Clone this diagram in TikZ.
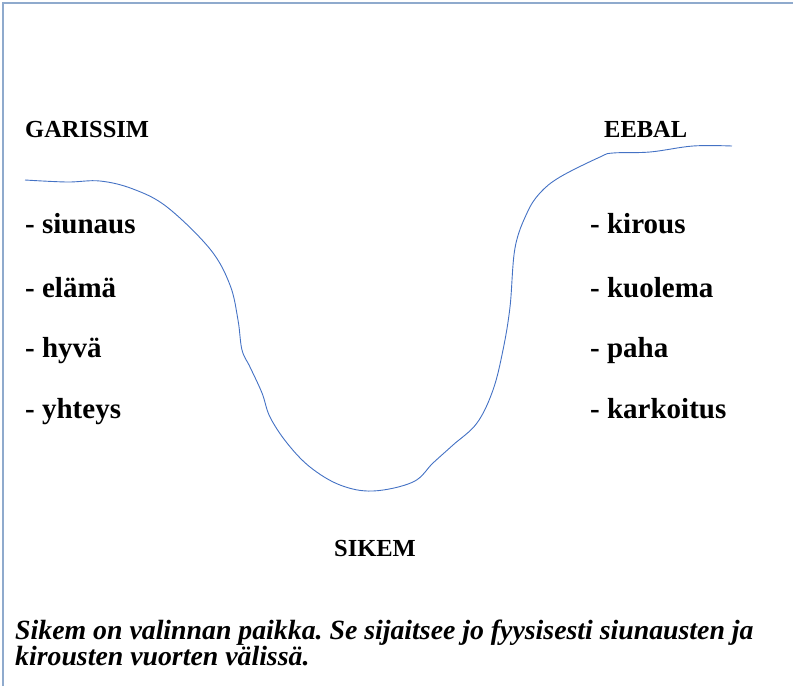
\documentclass[tikz,border=0pt]{standalone}
\usepackage{fontspec}
\setmainfont{Liberation Serif}
\frenchspacing
\definecolor{frame}{RGB}{143,170,205}
\definecolor{curve}{RGB}{68,114,196}
\tikzset{
  lbl/.style={anchor=base west, inner sep=0pt, font=\fontsize{24.5}{28}\selectfont\bfseries},
  item/.style={anchor=base west, inner sep=0pt, font=\fontsize{29}{32}\selectfont\bfseries},
  note/.style={anchor=base west, inner sep=0pt, font=\fontsize{27.8}{30}\selectfont\bfseries\itshape},
}
\begin{document}
\begin{tikzpicture}[x=1pt,y=-1pt]
\useasboundingbox (0,0) rectangle (793,686);
\draw[frame, line width=1.5pt] (3,686) -- (3,3) -- (793,3);
\draw[curve, line width=0.9pt] plot[smooth, tension=0.6] coordinates {
 (25,180) (67,182) (100,181) (133,189) (167,207) (210,249)
 (230,285) (238,320) (242,350) (250,367) (262,393) (270,417) (287,443)
 (310,467) (340,485) (373,491) (413,482) (433,463) (453,445) (477,423)
 (493,390) (503,350) (510,307) (515,248) (527,213) (540,193) (560,177)
 (600,157) (613,153) (650,152) (693,146) (732,146)};
\node[lbl] (garissim) at (25,137) {GARISSIM};
\node[lbl] (eebal) at (604,137) {EEBAL};
\node[item] (l1) at (25,233) {- siunaus};
\node[item] (l2) at (25,297) {- elämä};
\node[item] (l3) at (25,357) {- hyvä};
\node[item] (l4) at (25,418) {- yhteys};
\node[item] (r1) at (590,233) {- kirous};
\node[item] (r2) at (590,297) {- kuolema};
\node[item] (r3) at (590,357) {- paha};
\node[item] (r4) at (590,418) {- karkoitus};
\node[lbl, anchor=base] (sikem) at (375,556) {SIKEM};
\node[note] (n1) at (15,639) {Sikem on valinnan paikka. Se sijaitsee jo fyysisesti siunausten ja};
\node[note] (n2) at (15,665) {kirousten vuorten välissä.};
\end{tikzpicture}
\end{document}
